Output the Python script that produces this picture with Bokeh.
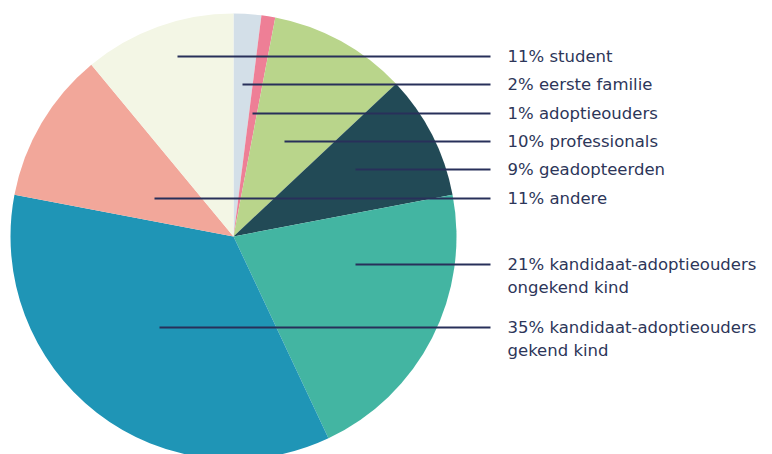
import math
from bokeh.plotting import figure
from bokeh.models import Range1d, ColumnDataSource
from bokeh.core.properties import value
from bokeh.embed import file_html
from bokeh.resources import INLINE

# Data (clockwise from 12 o'clock)
categories = ["eerste familie", "adoptieouders", "professionals", "geadopteerden",
              "kandidaat-adoptieouders\nongekend kind", "kandidaat-adoptieouders\ngekend kind",
              "andere", "student"]
percentages = [2, 1, 10, 9, 21, 35, 11, 11]
colors = ["#d3dfe8", "#ee7f96", "#b9d58b", "#224a56", "#43b5a2", "#1f95b6", "#f2a79a", "#f3f6e5"]

# Layout (screen-pixel positions of leader lines / labels)
label_order = ["student", "eerste familie", "adoptieouders", "professionals", "geadopteerden",
               "andere", "kandidaat-adoptieouders\nongekend kind", "kandidaat-adoptieouders\ngekend kind"]
label_y = [56, 84, 113, 141, 169, 198, 264, 327]
leader_x0 = [177, 242, 252, 284, 355, 154, 355, 159]
leader_x1 = 490
label_x = 507
line_gap = 23
cx, cy, radius = 233, 236, 223

W, H = 772, 454
p = figure(width=W, height=H, output_backend="svg", toolbar_location=None,
           x_range=Range1d(0, W), y_range=Range1d(-H, 0),
           min_border=0, outline_line_color=None)
p.axis.visible = False
p.grid.visible = False
p.background_fill_color = "white"
p.border_fill_color = "white"

# wedges
starts, ends = [], []
cum = 0
for v in percentages:
    a0 = math.radians(90 - (cum + v) * 3.6)
    a1 = math.radians(90 - cum * 3.6)
    starts.append(a0)
    ends.append(a1)
    cum += v
src = ColumnDataSource(dict(start=starts, end=ends, color=colors))
p.wedge(x=cx, y=-cy, radius=radius, start_angle="start", end_angle="end",
        fill_color="color", line_color=None, source=src)

# leader lines & labels
pct = dict(zip(categories, percentages))
xs0, ys0, xs1 = [], [], []
tx, ty, tt = [], [], []
for name, y, x0 in zip(label_order, label_y, leader_x0):
    xs0.append(x0); ys0.append(-y); xs1.append(leader_x1)
    lines = f"{pct[name]}% {name}".split("\n")
    for i, ln in enumerate(lines):
        tx.append(label_x); ty.append(-(y + i * line_gap)); tt.append(ln)

p.segment(x0=xs0, y0=ys0, x1=xs1, y1=ys0, line_color="#28305a", line_width=2)
p.text(x=tx, y=ty, text=tt, text_font=value("DejaVu Sans"), text_font_size="16.5px",
       text_color="#2d3659", text_baseline="middle", text_align="left")

open("out.html", "w").write(file_html(p, INLINE))
